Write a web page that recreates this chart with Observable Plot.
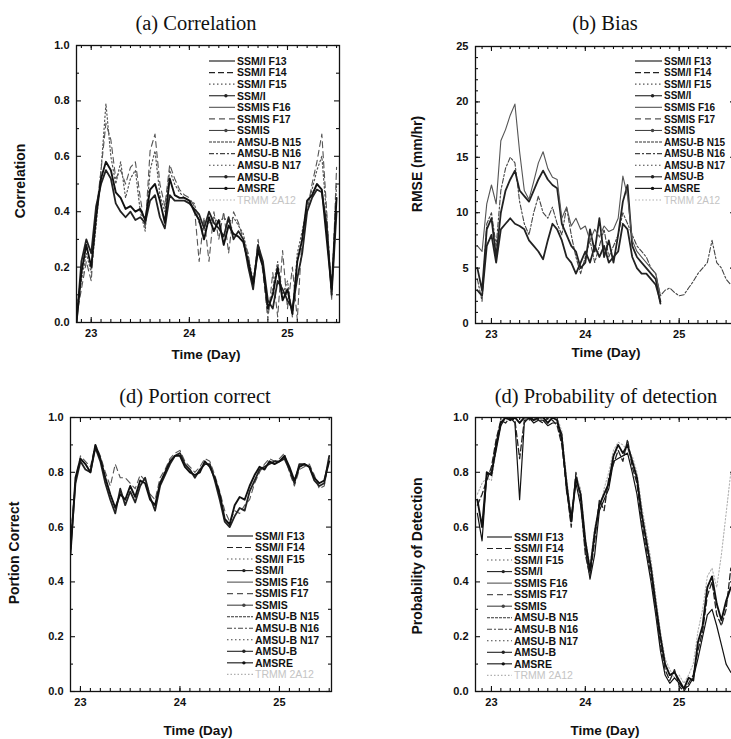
<!DOCTYPE html>
<html><head><meta charset="utf-8">
<script src="https://cdn.jsdelivr.net/npm/d3@7"></script>
<script src="https://cdn.jsdelivr.net/npm/@observablehq/plot@0.6"></script>
<style>
html,body{margin:0;padding:0;background:#fff;}
#page{position:relative;width:731px;height:739px;overflow:hidden;background:#fff;}
.title{position:absolute;font-family:"Liberation Serif","Times New Roman",serif;font-size:20.5px;color:#111;transform:translate(-50%,-50%);white-space:nowrap;}
.xlab,.ylab{position:absolute;font-family:"Liberation Sans",Arial,sans-serif;font-weight:bold;color:#111;white-space:nowrap;}
.xlab{font-size:13.5px;transform:translate(-50%,-50%);}
.ylab{font-size:14px;transform:translate(-50%,-50%) rotate(-90deg);}
</style></head><body><div id="page"></div>
<script>
// ---------- data ----------
const times = [22.85,22.90,22.95,23.00,23.05,23.10,23.15,23.20,23.25,23.30,
23.35,23.40,23.45,23.50,23.55,23.60,23.65,23.70,23.75,23.80,
23.85,23.90,23.95,24.00,24.05,24.10,24.15,24.20,24.25,24.30,
24.35,24.40,24.45,24.50,24.55,24.60,24.65,24.70,24.75,24.80,
24.85,24.90,24.95,25.00,25.05,25.10,25.15,25.20,25.25,25.30,
25.35,25.40,25.45,25.50,25.55];

const legendNames = ["SSM/I F13","SSM/I F14","SSM/I F15","SSM/I","SSMIS F16","SSMIS F17","SSMIS",
  "AMSU-B N15","AMSU-B N16","AMSU-B N17","AMSU-B","AMSRE","TRMM 2A12"];

const xTicks = [23, 24, 25];
const yTicksUnit = [0, 0.2, 0.4, 0.6, 0.8, 1.0];
const yTicksRmse = [0, 5, 10, 15, 20, 25];

// (a) Correlation
const corrF13 = [0.00,0.18,0.28,0.20,0.38,0.52,0.58,0.55,0.47,0.45,
0.41,0.42,0.40,0.41,0.37,0.48,0.50,0.44,0.36,0.52,
0.46,0.45,0.45,0.44,0.40,0.37,0.30,0.38,0.33,0.37,
0.28,0.35,0.32,0.31,0.29,0.22,0.14,0.26,0.20,0.05,
0.10,0.20,0.08,0.12,0.03,0.22,0.30,0.44,0.46,0.50,
0.48,0.30,0.12,0.45];
const corrF17 = [0.02,0.12,0.22,0.15,0.40,0.55,0.72,0.66,0.52,0.55,
0.50,0.56,0.58,0.45,0.34,0.62,0.68,0.50,0.42,0.57,
0.52,0.48,0.46,0.45,0.42,0.22,0.38,0.22,0.40,0.30,
0.40,0.25,0.40,0.36,0.30,0.25,0.12,0.30,0.18,0.01,
0.18,0.02,0.26,0.05,0.20,0.01,0.32,0.40,0.50,0.58,
0.68,0.40,0.08,0.56];
const corrAMSUB = [0.00,0.22,0.30,0.25,0.42,0.50,0.55,0.52,0.43,0.40,
0.38,0.40,0.37,0.38,0.36,0.44,0.46,0.38,0.34,0.46,
0.44,0.44,0.44,0.43,0.41,0.39,0.34,0.40,0.36,0.34,
0.31,0.38,0.30,0.33,0.30,0.20,0.12,0.28,0.22,0.08,
0.05,0.15,0.12,0.08,0.05,0.16,0.25,0.40,0.45,0.48,
0.47,0.35,0.10,0.40];
const corrF15 = [0.05,0.15,0.25,0.18,0.35,0.55,0.79,0.60,0.50,0.58,
0.45,0.52,0.55,0.40,0.33,0.55,0.62,0.46,0.40,0.55,
0.50,0.47,0.45,0.44,0.43,0.36,0.33,0.36,0.38,0.36,
0.38,0.36,0.38,0.35,0.32,0.24,0.15,0.28,0.20,0.03,
0.12,0.22,0.10,0.15,0.02,0.25,0.33,0.42,0.48,0.55,
0.60,0.38,0.10,0.50];

// (b) RMSE
const rmseF16 = [7.0,6.5,10.8,12.5,10.8,16.5,17.5,18.8,19.8,15.5,
12.0,11.2,12.8,14.5,15.5,14.0,13.2,13.0,9.5,10.5,
8.8,9.5,8.5,8.8,7.5,8.5,7.8,8.8,8.3,8.5,
9.5,13.3,11.5,7.5,6.5,6.0,5.5,5.0,4.5,2.5];
const rmseSSMI = [5.0,3.0,8.5,9.5,6.0,10.0,12.0,13.0,13.8,12.0,
11.5,11.0,12.0,13.0,13.8,13.0,12.5,12.2,9.0,8.0,
7.0,6.5,5.0,5.5,8.5,6.5,9.5,6.0,7.5,5.5,
8.0,11.0,12.5,7.0,6.0,5.5,5.0,4.5,4.0,1.8];
const rmseAMSUB = [3.0,2.5,7.0,8.0,5.5,8.5,9.0,9.5,9.0,8.8,
8.5,7.5,7.0,6.5,5.8,7.5,9.0,8.5,7.5,6.0,
5.5,4.5,5.5,6.5,5.5,7.0,6.0,7.0,5.5,6.0,
6.5,9.0,8.5,6.0,5.0,4.5,4.5,4.0,3.5,2.0];
const rmseN16 = [4.0,2.0,9.0,10.0,7.0,12.0,14.0,15.0,14.5,11.0,
9.0,8.0,10.0,11.5,10.0,9.5,10.5,9.0,8.0,10.5,
8.0,6.0,4.5,6.0,7.5,5.5,7.0,8.5,6.0,7.0,
8.0,10.0,9.0,8.0,7.0,6.5,6.0,5.0,4.5,2.5,
3.0,3.2,2.8,2.5,2.6,3.2,3.8,4.5,5.0,5.5,
7.5,5.5,5.0,4.0,3.5];

// (c) Portion correct
const pcF13 = [null,0.50,0.78,0.85,0.83,0.80,0.90,0.85,0.78,0.72,
0.67,0.72,0.70,0.75,0.71,0.77,0.76,0.70,0.68,0.76,
0.80,0.84,0.86,0.86,0.82,0.80,0.79,0.80,0.84,0.82,
0.78,0.72,0.63,0.61,0.68,0.71,0.70,0.75,0.79,0.82,
0.81,0.84,0.83,0.84,0.86,0.82,0.77,0.82,0.83,0.82,
0.78,0.76,0.77,0.84];
const pcAMSUB = [null,0.52,0.76,0.84,0.81,0.80,0.89,0.84,0.76,0.70,
0.65,0.74,0.68,0.73,0.69,0.75,0.78,0.71,0.66,0.75,
0.79,0.83,0.86,0.87,0.83,0.81,0.78,0.81,0.83,0.83,
0.77,0.70,0.62,0.60,0.64,0.67,0.66,0.73,0.77,0.81,
0.82,0.83,0.84,0.84,0.85,0.81,0.76,0.83,0.83,0.82,
0.77,0.75,0.76,0.86];
const pcF17 = [null,0.55,0.77,0.86,0.84,0.82,0.90,0.86,0.80,0.75,
0.83,0.78,0.78,0.76,0.74,0.79,0.77,0.72,0.70,0.78,
0.81,0.85,0.87,0.88,0.84,0.82,0.80,0.82,0.85,0.84,
0.79,0.73,0.66,0.62,0.66,0.65,0.68,0.70,0.76,0.80,
0.83,0.85,0.84,0.85,0.87,0.80,0.75,0.81,0.82,0.83,
0.79,0.74,0.75,0.85];

// (d) Probability of detection
const podF13 = [0.70,0.60,0.80,0.79,0.90,0.98,1.00,0.99,1.00,0.98,
1.00,1.00,0.99,1.00,1.00,0.98,1.00,0.99,0.92,0.76,
0.62,0.78,0.72,0.55,0.44,0.58,0.68,0.72,0.76,0.86,
0.90,0.87,0.90,0.84,0.78,0.65,0.55,0.45,0.32,0.20,
0.10,0.06,0.07,0.04,0.01,0.05,0.04,0.18,0.24,0.38,
0.42,0.32,0.26,0.33,0.38];
const podF14 = [0.68,0.72,0.77,0.82,0.92,0.99,0.98,1.00,0.99,0.85,
0.99,0.99,1.00,0.99,0.98,1.00,0.99,0.97,0.90,0.74,
0.60,0.80,0.70,0.50,0.42,0.55,0.70,0.66,0.78,0.83,
0.88,0.84,0.92,0.82,0.76,0.62,0.52,0.42,0.30,0.17,
0.08,0.04,0.08,0.02,0.00,0.03,0.06,0.15,0.22,0.35,
0.40,0.28,0.24,0.30,0.45];
const podAMSRE = [0.65,0.55,0.79,0.80,0.88,0.97,1.00,1.00,0.98,0.70,
0.98,1.00,0.98,0.99,0.99,0.97,0.98,0.98,0.94,0.73,
0.64,0.76,0.68,0.52,0.41,0.50,0.66,0.70,0.74,0.84,
0.85,0.86,0.87,0.80,0.72,0.60,0.50,0.40,0.28,0.15,
0.06,0.03,0.05,0.03,0.01,0.02,0.05,0.12,0.20,0.28,
0.30,0.24,0.17,0.10,0.07];
const podTRMM = [0.72,0.76,0.78,0.77,0.88,1.00,0.99,1.00,1.00,1.00,
0.99,1.00,0.98,1.00,0.99,1.00,1.00,1.00,0.95,0.78,
0.64,0.79,0.74,0.56,0.46,0.60,0.66,0.74,0.80,0.88,
0.91,0.90,0.88,0.86,0.80,0.68,0.58,0.48,0.35,0.22,
0.12,0.08,0.05,0.06,0.03,0.06,0.10,0.22,0.30,0.42,
0.45,0.38,0.50,0.65,0.80];

// ---------- styles ----------
const styleOf = {
  "SSM/I F13":  {stroke:"#111", dash:null,      width:1.9, marker:false},
  "SSM/I F14":  {stroke:"#222", dash:"6,3",     width:1.3, marker:false},
  "SSM/I F15":  {stroke:"#555", dash:"1.5,2.5", width:1.2, marker:false},
  "SSM/I":      {stroke:"#222", dash:null,      width:1.8, marker:true},
  "SSMIS F16":  {stroke:"#555", dash:null,      width:1.1, marker:false},
  "SSMIS F17":  {stroke:"#555", dash:"6,4",     width:1.1, marker:false},
  "SSMIS":      {stroke:"#444", dash:null,      width:1.1, marker:true},
  "AMSU-B N15": {stroke:"#333", dash:"3,1",     width:1.0, marker:false},
  "AMSU-B N16": {stroke:"#444", dash:"5,2,2,2", width:1.1, marker:false},
  "AMSU-B N17": {stroke:"#444", dash:"1.5,2.5", width:1.0, marker:false},
  "AMSU-B":     {stroke:"#222", dash:null,      width:1.8, marker:true},
  "AMSRE":      {stroke:"#111", dash:null,      width:1.2, marker:true},
  "TRMM 2A12":  {stroke:"#b0b0b0", dash:"1.5,2", width:1.1, marker:false}
};

function rows(values) {
  return values.map((v, i) => ({t: times[i], v: v}));
}

function seriesMarks(list) {
  return list.map(([name, values]) => {
    const s = styleOf[name];
    return Plot.line(rows(values), {x: "t", y: "v", stroke: s.stroke, strokeWidth: s.width,
      strokeDasharray: s.dash || undefined, clip: true});
  });
}

// inward ticks on all four sides, drawn as short tick marks inset from the frame
function frameAxes(W, H, xMinor, yMinor, yTicks, yFmt) {
  const big = 5, small = 3;
  const tk = {stroke: "#111", strokeWidth: 1.1};
  return [
    Plot.frame({stroke: "#111", strokeWidth: 1.3}),
    Plot.tickX(xTicks, {x: d => d, insetTop: H - big, ...tk}),
    Plot.tickX(xTicks, {x: d => d, insetBottom: H - big, ...tk}),
    Plot.tickX(xMinor, {x: d => d, insetTop: H - small, ...tk}),
    Plot.tickX(xMinor, {x: d => d, insetBottom: H - small, ...tk}),
    Plot.tickY(yTicks, {y: d => d, insetRight: W - big, ...tk}),
    Plot.tickY(yTicks, {y: d => d, insetLeft: W - big, ...tk}),
    Plot.tickY(yMinor, {y: d => d, insetRight: W - small, ...tk}),
    Plot.tickY(yMinor, {y: d => d, insetLeft: W - small, ...tk}),
    Plot.axisX({anchor: "bottom", ticks: xTicks, tickSize: 0, tickPadding: 7, tickFormat: d => String(d), label: null}),
    Plot.axisY({anchor: "left", ticks: yTicks, tickSize: 0, tickPadding: 7, tickFormat: yFmt, label: null})
  ];
}

function addLegend(svg, x0, y0, step, len, fs) {
  const g = d3.select(svg).append("g")
    .attr("font-family", "Liberation Sans, Arial, sans-serif")
    .attr("font-size", fs).attr("text-anchor", "start");
  legendNames.forEach((name, i) => {
    const s = styleOf[name];
    const y = y0 + i * step;
    const last = name === "TRMM 2A12";
    g.append("line").attr("x1", x0).attr("x2", x0 + len).attr("y1", y).attr("y2", y)
      .attr("stroke", s.stroke).attr("stroke-width", 1.1)
      .attr("stroke-dasharray", s.dash);
    if (s.marker) g.append("circle").attr("cx", x0 + len * 0.65).attr("cy", y).attr("r", 1.7).attr("fill", s.stroke);
    g.append("text").attr("x", x0 + len + 2).attr("y", y).attr("dy", "0.36em")
      .attr("text-anchor", "start")
      .attr("fill", last ? "#c4c4c4" : "#111").attr("font-weight", last ? "normal" : "bold").text(name);
  });
}

const page = document.getElementById("page");
function place(el, left, top) {
  el.style.position = "absolute"; el.style.left = left + "px"; el.style.top = top + "px";
  page.appendChild(el);
}
function label(cls, text, cx, cy) {
  const d = document.createElement("div");
  d.className = cls; d.textContent = text;
  d.style.left = cx + "px"; d.style.top = cy + "px";
  page.appendChild(d);
}

const baseStyle = {fontFamily: "Liberation Sans, Arial, sans-serif", fontSize: "11px", fontWeight: "bold", color: "#111", background: "transparent", overflow: "visible"};
const fmt1 = d3.format(".1f");
const fmt0 = d => String(d);

// (a)
const pA = Plot.plot({
  width: 350, height: 370, marginLeft: 76, marginRight: 11, marginTop: 45, marginBottom: 48,
  style: baseStyle,
  x: {domain: [22.85, 25.53]}, y: {domain: [0, 1]},
  marks: [
    ...seriesMarks([["SSM/I F15", corrF15], ["SSMIS F17", corrF17], ["AMSU-B", corrAMSUB], ["SSM/I F13", corrF13]]),
    ...frameAxes(263, 277, d3.range(22.9, 25.55, 0.1), d3.range(0.1, 1, 0.2), yTicksUnit, fmt1)
  ]
});
addLegend(pA, 209, 61, 11.58, 26, 10.5);
place(pA, 0, 0);

// (b)
const pB = Plot.plot({
  width: 375, height: 370, marginLeft: 110, marginRight: 5, marginTop: 46, marginBottom: 47,
  style: baseStyle,
  x: {domain: [22.83, 25.6]}, y: {domain: [0, 25]},
  marks: [
    ...seriesMarks([["AMSU-B N16", rmseN16], ["AMSU-B", rmseAMSUB], ["SSM/I", rmseSSMI], ["SSMIS F16", rmseF16]]),
    ...frameAxes(260, 277, d3.range(22.9, 25.6, 0.1), d3.range(1, 25, 1), yTicksRmse, fmt0)
  ]
});
addLegend(pB, 270, 61, 11.58, 27, 10);
place(pB, 365, 0);

// (c)
const pC = Plot.plot({
  width: 350, height: 369, marginLeft: 70, marginRight: 19, marginTop: 47, marginBottom: 48,
  style: baseStyle,
  x: {domain: [22.9, 25.523]}, y: {domain: [0, 1]},
  marks: [
    ...seriesMarks([["SSMIS F17", pcF17], ["AMSU-B", pcAMSUB], ["SSM/I F13", pcF13]]),
    ...frameAxes(261, 274, d3.range(23.0, 25.55, 0.1), d3.range(0.1, 1, 0.2), yTicksUnit, fmt1)
  ]
});
addLegend(pC, 227, 166, 11.53, 26, 10.5);
place(pC, 0, 370);

// (d)
const pD = Plot.plot({
  width: 375, height: 369, marginLeft: 110, marginRight: 5, marginTop: 47, marginBottom: 48,
  style: baseStyle,
  x: {domain: [22.83, 25.6]}, y: {domain: [0, 1]},
  marks: [
    ...seriesMarks([["TRMM 2A12", podTRMM], ["AMSRE", podAMSRE], ["SSM/I F14", podF14], ["SSM/I F13", podF13]]),
    ...frameAxes(260, 274, d3.range(22.9, 25.6, 0.1), d3.range(0.1, 1, 0.2), yTicksUnit, fmt1)
  ]
});
addLegend(pD, 122, 167, 11.53, 25, 10.5);
place(pD, 365, 370);

// titles and axis labels
label("title", "(a) Correlation", 196, 23);
label("title", "(b) Bias", 605, 23);
label("title", "(d) Portion correct", 195, 396);
label("title", "(d) Probability of detection", 606, 396);
label("xlab", "Time (Day)", 206, 354);
label("xlab", "Time (Day)", 606, 352);
label("xlab", "Time (Day)", 198, 730);
label("xlab", "Time (Day)", 605, 730);
label("ylab", "Correlation", 20, 181);
label("ylab", "RMSE (mm/hr)", 417, 164);
label("ylab", "Portion Correct", 14, 553);
label("ylab", "Probability of Detection", 417, 556);
</script></body></html>
